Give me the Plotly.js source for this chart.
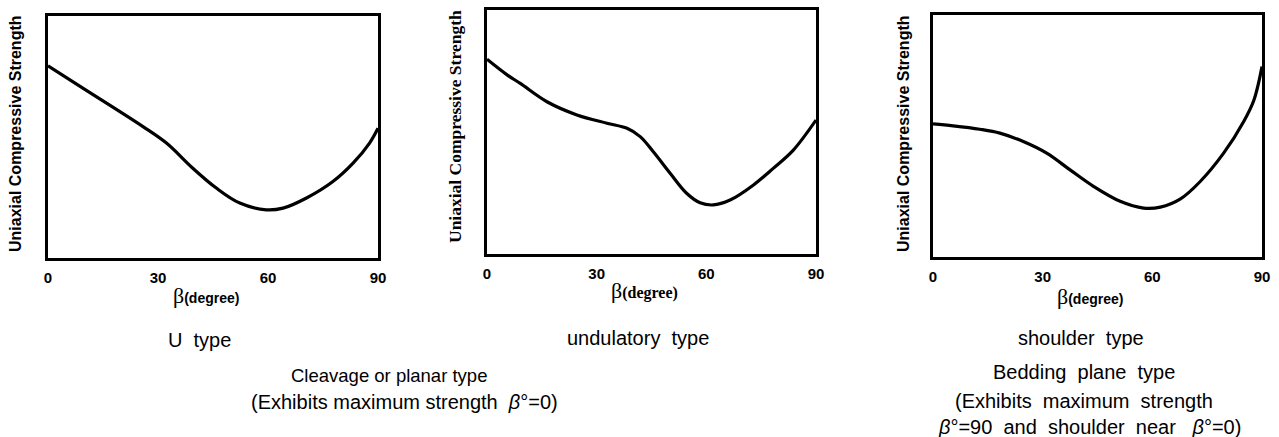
<!DOCTYPE html>
<html>
<head>
<meta charset="utf-8">
<script src="https://cdn.plot.ly/plotly-3.0.1.min.js"></script>
<style>
  html, body { margin: 0; padding: 0; background: #fff; }
  #chart { width: 1279px; height: 437px; }
</style>
</head>
<body>
<div id="chart"></div>
<script>
// Orientation angle beta (degrees) and relative uniaxial compressive strength (0-100)
const uBeta = [0, 9.5, 25.9, 32.3, 39.5, 45.9, 52.3, 59.5, 64.1, 70.5, 77.7, 83.2, 87.7, 90];
const uStrength = [79.4, 70.2, 54.3, 47.5, 37.1, 28.9, 22.7, 19.9, 20.6, 24.8, 31.6, 39.2, 47.5, 53.6];

const undBeta = [0, 5.5, 9.1, 16.4, 24.6, 32.8, 38.3, 41.9, 45.5, 50.1, 54.6, 58.3, 61.9, 66.5, 72.9, 78.3, 83.8, 90];
const undStrength = [79.8, 73.4, 69.9, 62.4, 57.0, 53.6, 51.5, 48.1, 41.9, 33.1, 24.9, 21.0, 20.1, 22.1, 28.3, 35.1, 42.6, 54.9];

const shBeta = [0, 5.5, 12.8, 18.3, 24.7, 31.1, 37.5, 43.9, 51.2, 57.6, 62.2, 67.6, 73.1, 79.5, 85.0, 87.8, 90];
const shStrength = [55.0, 54.2, 52.8, 51.2, 47.7, 42.9, 36.0, 29.2, 23.0, 20.2, 20.6, 23.9, 31.2, 42.9, 56.0, 64.9, 78.7];

const tickValues = [0, 30, 60, 90];
const tickLabels = ['0', '30', '60', '90'];

const panelNames = ['U type', 'undulatory type', 'shoulder type'];
const yTitle = 'Uniaxial Compressive Strength';

const W = 1279, H = 437;
const px = v => v / W;
const py = v => 1 - v / H;

const SANS = 'Liberation Sans, Arial, Helvetica, sans-serif';
const SERIF = 'Liberation Serif, Times New Roman, serif';

function curve(x, y, xa, ya) {
  return {
    x: x, y: y, xaxis: xa, yaxis: ya,
    type: 'scatter', mode: 'lines',
    line: { color: '#000', width: 3.2, shape: 'spline', smoothing: 1.0 },
    hoverinfo: 'skip', showlegend: false
  };
}

const data = [
  curve(uBeta, uStrength, 'x', 'y'),
  curve(undBeta, undStrength, 'x2', 'y2'),
  curve(shBeta, shStrength, 'x3', 'y3')
];

function xAxis(domain, anchor) {
  return {
    domain: domain, anchor: anchor, range: [0, 90],
    tickvals: tickValues, ticktext: tickLabels.map(t => '<b>' + t + '</b>'),
    ticks: '', ticklabelstandoff: 4,
    tickfont: { family: SANS, size: 15, color: '#000' },
    showline: true, linecolor: '#000', linewidth: 3, mirror: true,
    showgrid: false, zeroline: false, fixedrange: true
  };
}
function yAxis(domain, anchor) {
  return {
    domain: domain, anchor: anchor, range: [0, 100],
    showticklabels: false, ticks: '',
    showline: true, linecolor: '#000', linewidth: 3, mirror: true,
    showgrid: false, zeroline: false, fixedrange: true
  };
}

const panels = [
  { x0: 48, x1: 378, y0: 16, y1: 258 },
  { x0: 487, x1: 816, y0: 10, y1: 254 },
  { x0: 933, x1: 1262, y0: 15, y1: 257 }
];

const layout = {
  width: W, height: H,
  margin: { l: 0, r: 0, t: 0, b: 0 },
  paper_bgcolor: '#fff', plot_bgcolor: '#fff',
  showlegend: false,
  xaxis: xAxis([px(panels[0].x0), px(panels[0].x1)], 'y'),
  yaxis: yAxis([py(panels[0].y1), py(panels[0].y0)], 'x'),
  xaxis2: xAxis([px(panels[1].x0), px(panels[1].x1)], 'y2'),
  yaxis2: yAxis([py(panels[1].y1), py(panels[1].y0)], 'x2'),
  xaxis3: xAxis([px(panels[2].x0), px(panels[2].x1)], 'y3'),
  yaxis3: yAxis([py(panels[2].y1), py(panels[2].y0)], 'x3'),
  annotations: []
};

function note(text, cx, cy, font, extra) {
  return Object.assign({
    text: text, xref: 'paper', yref: 'paper',
    x: px(cx), y: py(cy), xanchor: 'center', yanchor: 'middle',
    showarrow: false, font: font
  }, extra || {});
}

const A = layout.annotations;
// vertical axis titles
A.push(note('<b>' + yTitle + '</b>', 15, 134, { family: SANS, size: 16, color: '#000' }, { textangle: -90 }));
A.push(note('<b>' + yTitle + '</b>', 455, 127, { family: SERIF, size: 17.5, color: '#000' }, { textangle: -90 }));
A.push(note('<b>' + yTitle + '</b>', 903, 134, { family: SANS, size: 16, color: '#000' }, { textangle: -90 }));

// horizontal axis titles
const betaSans = '<span style="font-family:Liberation Serif;font-size:22px">β</span><b>(degree)</b>';
const betaSerif = '<span style="font-size:22px">β</span><b>(degree)</b>';
A.push(note(betaSans, 206, 295, { family: SANS, size: 14, color: '#000' }));
A.push(note(betaSerif, 644, 290, { family: SERIF, size: 16, color: '#000' }));
A.push(note(betaSans, 1090, 296, { family: SANS, size: 14, color: '#000' }));

// panel captions
const sp = '&nbsp; ';
const capFont = { family: SANS, size: 20, color: '#000' };
A.push(note(panelNames[0].split(' ').join(sp), 199, 340, capFont));
A.push(note(panelNames[1].split(' ').join(sp), 638, 338, capFont));
A.push(note(panelNames[2].split(' ').join(sp), 1081, 338, capFont));

// group descriptions
A.push(note('Cleavage or planar type', 389, 375, { family: SANS, size: 18.5, color: '#000' }));
A.push(note('(Exhibits maximum strength&nbsp; <i>β</i>°=0)', 404, 402, capFont));
A.push(note(['Bedding', 'plane', 'type'].join(sp), 1084, 372, capFont));
A.push(note(['(Exhibits', 'maximum', 'strength'].join(sp), 1084, 401, capFont));
A.push(note(['<i>β</i>°=90', 'and', 'shoulder', 'near', '&nbsp;<i>β</i>°=0)'].join(sp), 1089, 427, capFont));

Plotly.newPlot('chart', data, layout, { displayModeBar: false, staticPlot: true });
</script>
</body>
</html>
